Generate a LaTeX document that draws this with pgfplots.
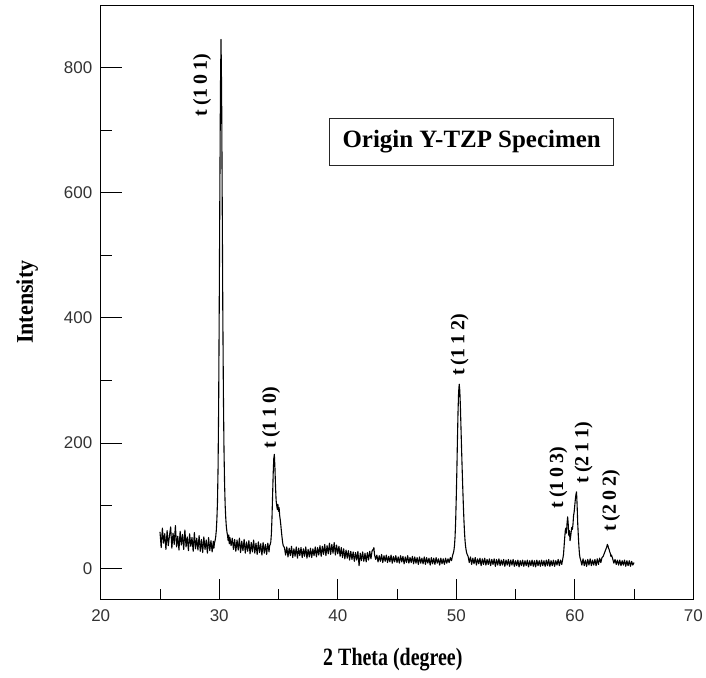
\documentclass[border=0pt]{standalone}
\usepackage{pgfplots}
\pgfplotsset{compat=1.18}
\usepackage{fontspec}
\setmainfont{Liberation Serif}
\newfontfamily\arialfont{Liberation Sans}

% XRD pattern of the as-received Y-TZP specimen (2theta, counts)
\pgfplotstableread{
x y
25.0 58
25.1 33
25.2 64
25.3 40
25.4 55
25.5 30
25.6 60
25.7 36
25.8 52
25.9 66
26.0 32
26.1 56
26.2 38
26.3 68
26.4 34
26.5 51
26.6 29
26.7 59
26.8 37
26.9 54
27.0 30
27.1 61
27.2 34
27.3 50
27.4 28
27.5 55
27.6 35
27.7 49
27.8 27
27.9 57
28.0 31
28.1 48
28.2 29
28.3 52
28.4 27
28.5 46
28.6 25
28.7 50
28.8 30
28.9 45
29.0 24
29.1 49
29.2 28
29.3 44
29.4 26
29.5 43
29.55 32
29.6 41
29.65 44
29.7 50
29.75 60
29.8 78
29.85 105
29.9 160
29.95 260
30.0 420
30.05 600
30.1 764
30.15 845
30.2 762
30.25 590
30.3 410
30.35 280
30.4 190
30.45 135
30.5 100
30.55 80
30.6 66
30.65 58
30.7 52
30.75 44
30.8 53
30.85 39
30.9 49
31.0 36
31.1 48
31.2 30
31.3 46
31.4 27
31.5 45
31.6 29
31.7 48
31.8 25
31.9 43
32.0 28
32.1 46
32.2 24
32.3 42
32.4 27
32.5 44
32.6 23
32.7 41
32.8 26
32.9 45
33.0 24
33.1 40
33.2 22
33.3 42
33.4 25
33.5 39
33.6 21
33.7 41
33.8 24
33.9 38
34.0 22
34.1 40
34.2 26
34.25 36
34.3 38
34.35 42
34.4 55
34.45 80
34.5 115
34.55 150
34.6 175
34.65 182
34.7 160
34.75 130
34.8 108
34.85 100
34.9 94
34.95 102
35.0 91
35.05 97
35.1 84
35.15 77
35.2 68
35.25 58
35.3 49
35.35 41
35.4 36
35.5 33
35.6 21
35.7 34
35.8 18
35.9 32
36.0 20
36.1 35
36.2 17
36.3 31
36.4 19
36.5 34
36.6 16
36.7 32
36.8 20
36.9 33
37.0 17
37.1 31
37.2 19
37.3 34
37.4 16
37.5 30
37.6 18
37.7 32
37.8 17
37.9 31
38.0 20
38.1 34
38.2 18
38.3 33
38.4 21
38.5 36
38.6 19
38.7 35
38.8 22
38.9 38
39.0 20
39.1 36
39.2 23
39.3 40
39.4 22
39.5 38
39.6 24
39.7 41
39.8 21
39.9 37
40.0 23
40.1 35
40.2 19
40.3 33
40.4 17
40.5 31
40.6 15
40.7 29
40.8 16
40.9 28
41.0 13
41.1 27
41.2 14
41.3 26
41.4 11
41.5 25
41.6 13
41.7 27
41.8 4
41.9 24
42.0 12
42.1 26
42.2 11
42.3 24
42.4 10
42.5 25
42.6 13
42.7 27
42.8 15
42.9 28
43.0 30
43.05 33
43.1 22
43.2 14
43.3 21
43.4 10
43.5 20
43.6 11
43.7 22
43.8 9
43.9 20
44.0 11
44.1 21
44.2 9
44.3 19
44.4 10
44.5 21
44.6 8
44.7 19
44.8 10
44.9 20
45.0 9
45.1 18
45.2 8
45.3 20
45.4 10
45.5 19
45.6 7
45.7 18
45.8 9
45.9 20
46.0 8
46.1 17
46.2 9
46.3 19
46.4 7
46.5 18
46.6 8
46.7 17
46.8 6
46.9 18
47.0 8
47.1 16
47.2 7
47.3 18
47.4 6
47.5 17
47.6 8
47.7 16
47.8 5
47.9 17
48.0 7
48.1 16
48.2 6
48.3 17
48.4 8
48.5 15
48.6 5
48.7 16
48.8 7
48.9 15
49.0 6
49.1 16
49.2 8
49.3 15
49.4 9
49.5 17
49.6 12
49.7 21
49.75 24
49.8 28
49.85 36
49.9 50
49.95 75
50.0 112
50.05 155
50.1 205
50.15 250
50.2 282
50.25 294
50.3 284
50.35 258
50.4 224
50.45 190
50.5 158
50.55 128
50.6 100
50.65 76
50.7 56
50.75 42
50.8 33
50.85 27
50.9 23
51.0 19
51.1 9
51.2 18
51.3 6
51.4 16
51.5 7
51.6 17
51.7 5
51.8 15
51.9 7
52.0 16
52.1 4
52.2 15
52.3 6
52.4 16
52.5 5
52.6 14
52.7 6
52.8 15
52.9 4
53.0 14
53.1 6
53.2 15
53.3 3
53.4 14
53.5 5
53.6 15
53.7 4
53.8 13
53.9 5
54.0 14
54.1 3
54.2 13
54.3 5
54.4 14
54.5 3
54.6 13
54.7 5
54.8 14
54.9 3
55.0 12
55.1 4
55.2 13
55.3 2
55.4 12
55.5 4
55.6 13
55.7 3
55.8 12
55.9 4
56.0 13
56.1 2
56.2 12
56.3 4
56.4 13
56.5 3
56.6 12
56.7 2
56.8 13
56.9 4
57.0 12
57.1 3
57.2 13
57.3 4
57.4 12
57.5 3
57.6 13
57.7 4
57.8 14
57.9 3
58.0 12
58.1 4
58.2 13
58.3 3
58.4 12
58.5 5
58.6 14
58.7 4
58.8 13
58.9 6
59.0 16
59.05 22
59.1 35
59.15 48
59.2 60
59.25 64
59.3 56
59.35 72
59.4 82
59.45 70
59.5 52
59.55 60
59.6 44
59.65 50
59.7 58
59.75 65
59.8 62
59.85 70
59.9 84
59.95 90
60.0 100
60.05 110
60.1 118
60.15 122
60.2 100
60.25 72
60.3 52
60.35 35
60.4 22
60.45 16
60.5 13
60.6 5
60.7 15
60.8 4
60.9 13
61.0 3
61.1 14
61.2 5
61.3 15
61.4 4
61.5 13
61.6 5
61.7 14
61.8 4
61.9 15
62.0 6
62.1 16
62.2 9
62.3 17
62.4 19
62.5 24
62.6 29
62.7 34
62.75 38
62.8 36
62.85 32
62.9 30
62.95 26
63.0 24
63.05 19
63.1 21
63.2 15
63.3 8
63.4 14
63.5 6
63.6 13
63.7 5
63.8 13
63.9 4
64.0 12
64.1 5
64.2 13
64.3 3
64.4 12
64.5 4
64.6 12
64.7 3
64.8 11
64.9 5
65.0 9
}\xrddata

\newcommand{\peaklabel}[1]{\fontsize{20bp}{22bp}\selectfont\bfseries #1}
\newcommand{\gap}{\hspace{0.2em}}

\begin{document}
\begin{tikzpicture}
\begin{axis}[
  name=xrd,
  scale only axis,
  width=594bp, height=596bp,
  xmin=20, xmax=70, ymin=-50, ymax=900,
  xtick={20,30,...,70},
  ytick={0,200,...,800},
  minor xtick={25,35,...,65},
  minor ytick={100,300,500,700},
  tick align=inside,
  xtick pos=lower, ytick pos=left,
  major tick length=21bp, minor tick length=11bp,
  tick style={black, line width=0.8bp},
  axis line style={line width=0.9bp},
  /pgf/number format/assume math mode=true,
  ticklabel style={font=\arialfont\fontsize{17bp}{19bp}\selectfont, text=black!80},
  xticklabel style={yshift=-7bp},
  yticklabel style={xshift=-5bp},
  xlabel={2 Theta (degree)},
  ylabel={Intensity},
  xlabel style={at={(axis description cs:0.493,-0.1107)}, anchor=base,
    font=\fontsize{25bp}{28bp}\selectfont\bfseries, xscale=0.8},
  ylabel style={at={(axis description cs:-0.1145,0.5)}, anchor=base, rotate=0,
    font=\fontsize{24bp}{28bp}\selectfont\bfseries, xscale=0.92},
  clip=false,
]
\addplot[black, line width=1.1bp, line join=round] table[x=x, y=y] {\xrddata};

% reflection indices of the tetragonal phase
\node[rotate=90, anchor=west, inner sep=0] at (axis cs:28.56,722) {\peaklabel{t\gap(1\gap0\gap1)}};
\node[rotate=90, anchor=west, inner sep=0] at (axis cs:34.37,191) {\peaklabel{t\gap(1\gap1\gap0)}};
\node[rotate=90, anchor=west, inner sep=0] at (axis cs:50.28,307) {\peaklabel{t\gap(1\gap1\gap2)}};
\node[rotate=90, anchor=west, inner sep=0] at (axis cs:58.62,95) {\peaklabel{t\gap(1\gap0\gap3)}};
\node[rotate=90, anchor=west, inner sep=0] at (axis cs:60.74,135) {\peaklabel{t\gap(2\gap1\gap1)}};
\node[rotate=90, anchor=west, inner sep=0] at (axis cs:63.07,58) {\peaklabel{t\gap(2\gap0\gap2)}};

\node[draw=black!85, line width=1bp, fill=white, inner sep=0,
      minimum width=285bp, minimum height=47bp,
      font=\fontsize{25bp}{28bp}\selectfont\bfseries]
  at (axis cs:51.3,681) {Origin Y-TZP Specimen};
\end{axis}
\path[use as bounding box] ([xshift=-101bp,yshift=-78bp]xrd.south west)
  rectangle ([xshift=11bp,yshift=5bp]xrd.north east);
\end{tikzpicture}
\end{document}
